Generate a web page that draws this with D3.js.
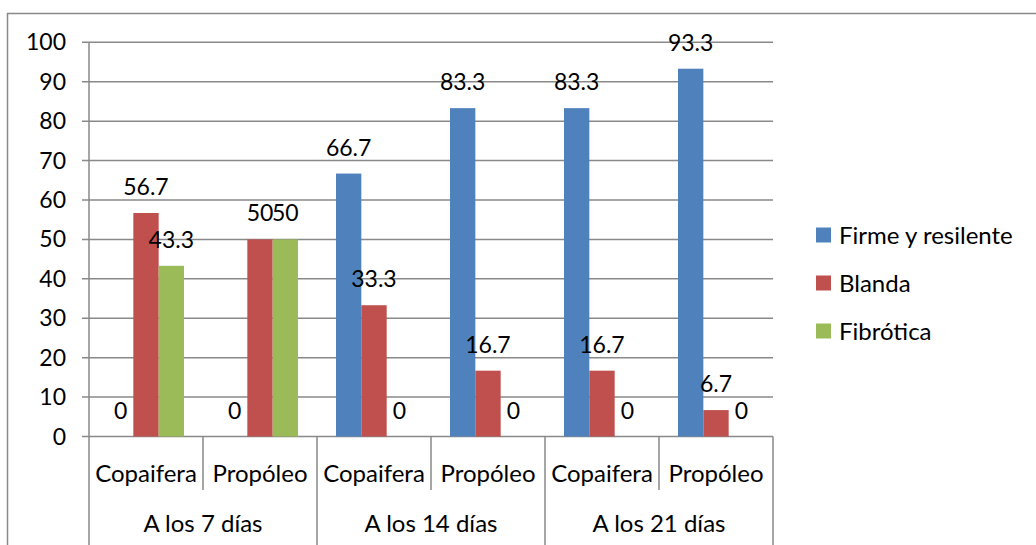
<!DOCTYPE html>
<html>
<head>
<meta charset="utf-8">
<script src="https://cdn.jsdelivr.net/npm/d3@7"></script>
<style>
  html, body { margin: 0; padding: 0; background: #fff; }
  svg { display: block; }
  text { font-family: Lato, "Open Sans", sans-serif; fill: #000; }
</style>
</head>
<body>
<svg id="chart" width="1036" height="545"></svg>
<script>
// Treatment groups and the products evaluated in each
const periods = ["A los 7 días", "A los 14 días", "A los 21 días"];
const products = ["Copaifera", "Propóleo"];
const seriesNames = ["Firme y resilente", "Blanda", "Fibrótica"];
const seriesColors = ["#4F81BD", "#C0504D", "#9BBB59"];

// Percentages per category (period × product)
const firme     = [0, 0, 66.7, 83.3, 83.3, 93.3];
const blanda    = [56.7, 50, 33.3, 16.7, 16.7, 6.7];
const fibrotica = [43.3, 50, 0, 0, 0, 0];
const yTicks = [0, 10, 20, 30, 40, 50, 60, 70, 80, 90, 100];

const seriesValues = [firme, blanda, fibrotica];
const categories = [];
periods.forEach(p => products.forEach(pr => categories.push({ period: p, product: pr, key: p + "|" + pr })));

const svg = d3.select("#chart");
const gridColor = "#898989";
const numSize = 23;   // numbers
const wordSize = 24;  // category and legend words

const plot = { left: 89, right: 773, top: 42.3, bottom: 436.5 };

const x0 = d3.scaleBand()
  .domain(categories.map(c => c.key))
  .range([plot.left, plot.right])
  .paddingInner(0).paddingOuter(0);

const x1 = d3.scaleBand()
  .domain(seriesNames)
  .range([0, x0.bandwidth()])
  .paddingInner(0).paddingOuter(0.75);

const y = d3.scaleLinear().domain([0, 100]).range([plot.bottom, plot.top]);

// Outer chart frame
svg.append("path")
  .attr("d", `M7.5,545 V13.5 H1036`)
  .attr("fill", "none").attr("stroke", gridColor).attr("stroke-width", 1.5);

// Horizontal gridlines with the left tick marks
svg.append("g").selectAll("line").data(yTicks).join("line")
  .attr("x1", plot.left - 7).attr("x2", plot.right)
  .attr("y1", d => y(d)).attr("y2", d => y(d))
  .attr("stroke", gridColor).attr("stroke-width", 1.5);

// Y tick labels
svg.append("g").selectAll("text").data(yTicks).join("text")
  .attr("x", 66).attr("y", d => y(d) - 1)
  .attr("text-anchor", "end").attr("dominant-baseline", "central")
  .attr("font-size", numSize)
  .text(d => d);

// Bars
const groups = svg.append("g").selectAll("g").data(categories).join("g")
  .attr("transform", c => `translate(${x0(c.key)},0)`);

groups.selectAll("rect")
  .data((c, i) => seriesNames.map((s, k) => ({ s, k, v: seriesValues[k][i] })))
  .join("rect")
  .attr("x", d => x1(d.s))
  .attr("width", x1.bandwidth())
  .attr("y", d => y(d.v))
  .attr("height", d => y(0) - y(d.v))
  .attr("fill", d => seriesColors[d.k]);

// Value labels above each bar
groups.selectAll("text")
  .data((c, i) => seriesNames.map((s, k) => ({ s, k, v: seriesValues[k][i] })))
  .join("text")
  .attr("x", d => x1(d.s) + x1.bandwidth() / 2)
  .attr("y", d => y(d.v) - 27)
  .attr("text-anchor", "middle").attr("dominant-baseline", "central")
  .attr("font-size", numSize)
  .text(d => d.v);

// Value axis line, running down through the category rows
svg.append("line")
  .attr("x1", plot.left).attr("x2", plot.left)
  .attr("y1", plot.top).attr("y2", 545)
  .attr("stroke", gridColor).attr("stroke-width", 1.5);

// Category separators: short between products, long between periods
const bounds = d3.range(1, categories.length + 1).map(i => plot.left + i * x0.step());
svg.append("g").selectAll("line").data(bounds).join("line")
  .attr("x1", d => d).attr("x2", d => d)
  .attr("y1", plot.bottom)
  .attr("y2", (d, i) => ((i + 1) % products.length === 0) ? 545 : 490)
  .attr("stroke", gridColor).attr("stroke-width", 1.5);

// Product labels
svg.append("g").selectAll("text").data(categories).join("text")
  .attr("x", c => x0(c.key) + x0.bandwidth() / 2)
  .attr("y", 472)
  .attr("text-anchor", "middle").attr("dominant-baseline", "central")
  .attr("font-size", wordSize)
  .text(c => c.product);

// Period labels
const periodWidth = x0.step() * products.length;
svg.append("g").selectAll("text").data(periods).join("text")
  .attr("x", (p, i) => plot.left + periodWidth * (i + 0.5))
  .attr("y", 522)
  .attr("text-anchor", "middle").attr("dominant-baseline", "central")
  .attr("font-size", wordSize)
  .text(p => p);

// Legend
const legend = svg.append("g").selectAll("g").data(seriesNames).join("g")
  .attr("transform", (s, i) => `translate(816,${235 + i * 48})`);
legend.append("rect")
  .attr("x", 0).attr("y", -7.5).attr("width", 15).attr("height", 15)
  .attr("fill", (s, i) => seriesColors[i]);
legend.append("text")
  .attr("x", 23).attr("y", -1)
  .attr("dominant-baseline", "central")
  .attr("font-size", wordSize)
  .text(s => s);
</script>
</body>
</html>
